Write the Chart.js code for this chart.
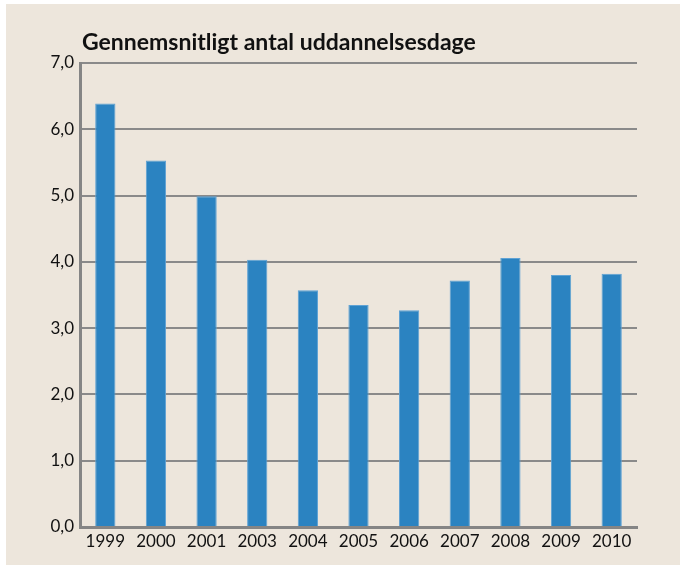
<!DOCTYPE html>
<html>
<head>
<meta charset="utf-8">
<script src="https://cdn.jsdelivr.net/npm/chart.js@4/dist/chart.umd.min.js"></script>
<style>
html,body{margin:0;padding:0;background:#ffffff;}
#wrap{width:680px;height:567px;position:relative;}
</style>
</head>
<body>
<div id="wrap"><canvas id="c" width="680" height="567"></canvas></div>
<script>
const categories = ["1999","2000","2001","2003","2004","2005","2006","2007","2008","2009","2010"];
const values = [6.39, 5.53, 4.99, 4.03, 3.57, 3.35, 3.27, 3.72, 4.06, 3.80, 3.82];
const yTicks = [0,1,2,3,4,5,6,7];
const titleText = "Gennemsnitligt antal uddannelsesdage";

const bgPlugin = {
  id: 'bg',
  beforeDraw(chart){
    const ctx = chart.ctx;
    ctx.save();
    ctx.fillStyle = '#ffffff';
    ctx.fillRect(0,0,chart.width,chart.height);
    ctx.fillStyle = '#ede6dc';
    ctx.fillRect(6,4,chart.width-6,561);
    ctx.restore();
  },
  afterDraw(chart){
    const ctx = chart.ctx;
    ctx.save();
    ctx.fillStyle = '#111111';
    ctx.font = 'bold 23px Lato';
    ctx.textBaseline = 'alphabetic';
    ctx.textAlign = 'left';
    ctx.fillText(titleText, 82, 50);
    ctx.restore();
  }
};

new Chart(document.getElementById('c'), {
  type: 'bar',
  data: {
    labels: categories,
    datasets: [{
      data: values,
      backgroundColor: '#2b83c1',
      borderColor: '#5fa2d4',
      borderWidth: 1,
      categoryPercentage: 0.8,
      barPercentage: 0.5
    }]
  },
  plugins: [bgPlugin],
  options: {
    responsive: false,
    animation: false,
    layout: { padding: { left: 0, right: 43, top: 63, bottom: 0 } },
    plugins: { legend: { display: false }, title: { display: false }, tooltip: { enabled: false } },
    scales: {
      x: {
        grid: { display: false },
        border: { display: true, color: '#858585', width: 3 },
        ticks: { color: '#111111', font: { family: 'Lato', size: 17 }, padding: -4, maxRotation: 0 },
        afterFit(s){ s.height = 40; }
      },
      y: {
        min: 0, max: 7,
        afterBuildTicks(s){ s.ticks = yTicks.map(v => ({ value: v })); },
        grid: { color: '#8a8a8a', lineWidth: 2, drawTicks: false },
        border: { display: true, color: '#858585', width: 3 },
        ticks: {
          color: '#111111', font: { family: 'Lato', size: 17 }, padding: 6,
          callback: v => v.toFixed(1).replace('.', ',')
        },
        afterFit(s){ s.width = 80; }
      }
    }
  }
});
</script>
</body>
</html>
